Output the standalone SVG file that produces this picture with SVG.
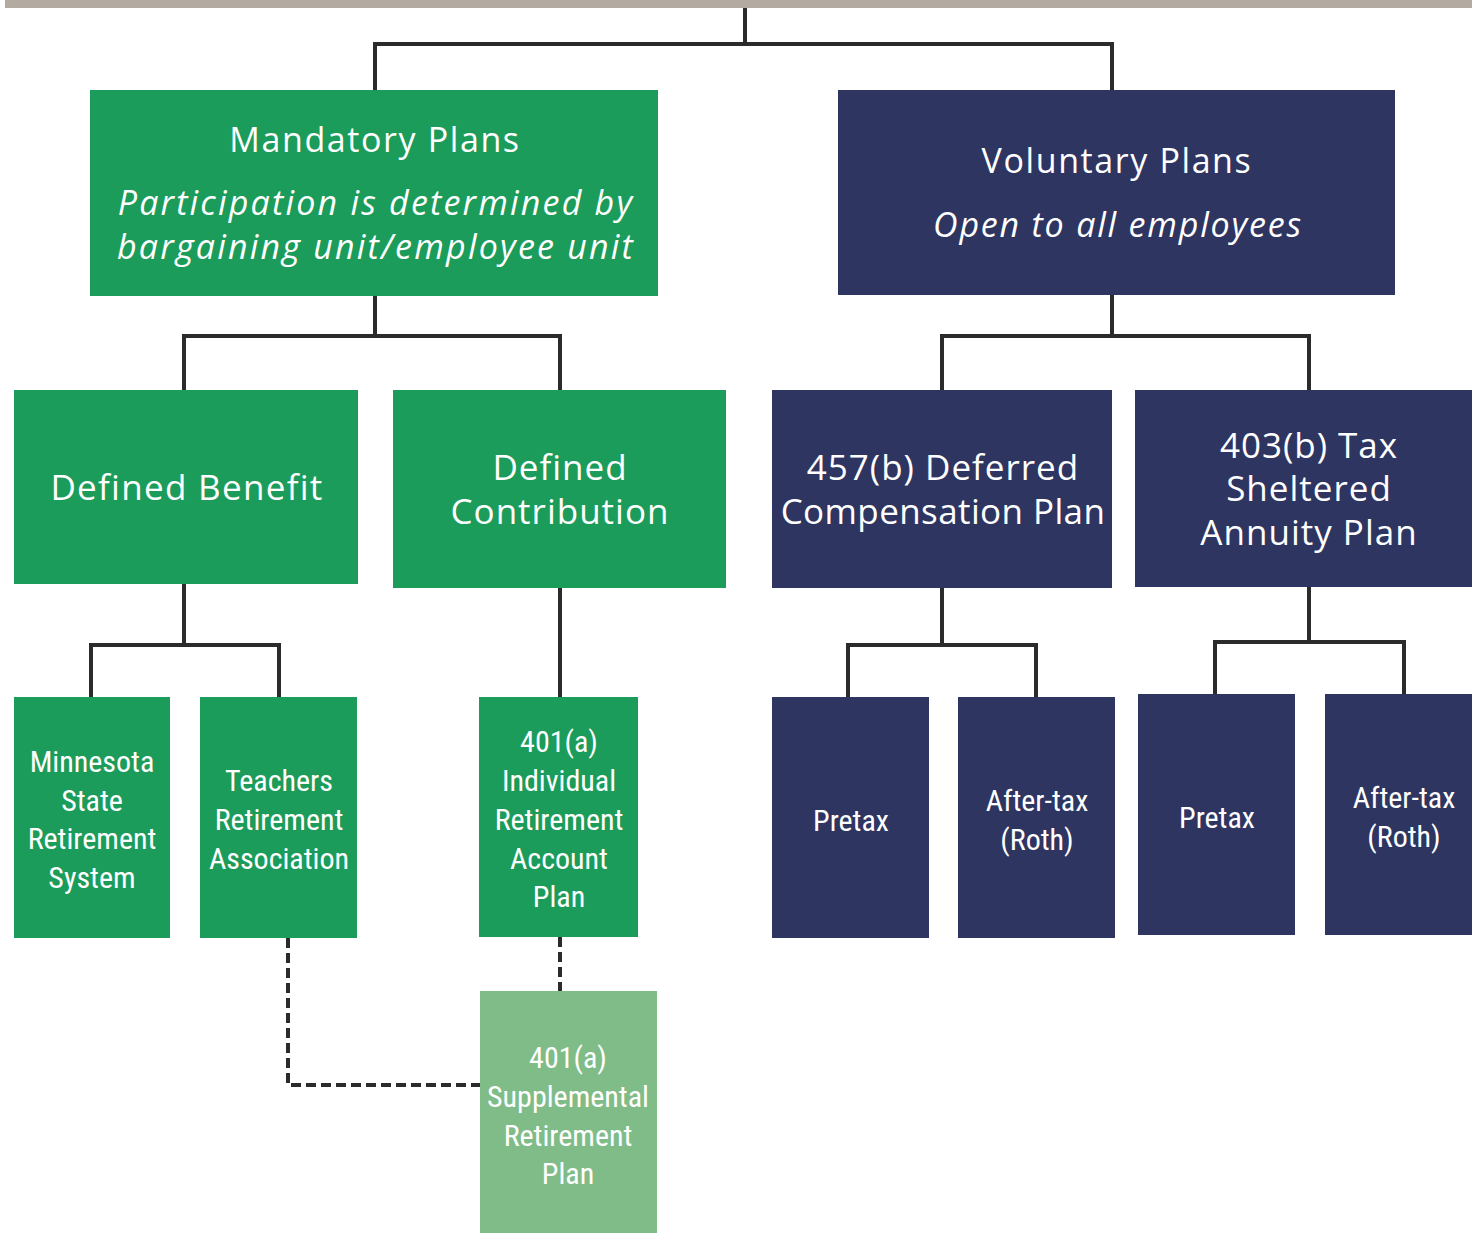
<svg xmlns="http://www.w3.org/2000/svg" width="1472" height="1233" viewBox="0 0 1472 1233">
<style>
.g{fill:#1b9c5a}
.n{fill:#2e3561}
.l{fill:#7fbc88}
.c{fill:none;stroke:#2b2b2b;stroke-width:4}
.d{fill:none;stroke:#2b2b2b;stroke-width:4;stroke-dasharray:10 5}
.h{font-family:"Open Sans","Noto Sans",sans-serif;fill:#fff;text-anchor:middle;font-weight:500}
.s{font-family:"Liberation Sans Narrow","Roboto Condensed","Liberation Sans",sans-serif;fill:#fff;text-anchor:middle;font-size:30px}
</style>
<rect x="5" y="0" width="1467" height="8" fill="#b3aaa1"/>
<g id="connectors">
<path class="c" d="M745 8V44M375 90V44H1112V90"/>
<path class="c" d="M375 296V336M184 390V336H560V390"/>
<path class="c" d="M1112 295V336M942 390V336H1309V390"/>
<path class="c" d="M184 584V645M91 697V645H279V697"/>
<path class="c" d="M560 588V697"/>
<path class="c" d="M942 588V645M848 697V645H1036V697"/>
<path class="c" d="M1309 587V642M1215 694V642H1404V694"/>
<path class="d" d="M288 938V1085H480"/>
<path class="d" d="M560 937V991"/>
</g>
<g id="mandatory"><rect class="g" x="90" y="90" width="568" height="206"/>
<text class="h" x="375" y="152" font-size="34" style="letter-spacing:1.6px">Mandatory Plans</text>
<text class="h" x="376" y="215" font-size="34" font-style="italic" style="letter-spacing:2.2px">Participation is determined by</text>
<text class="h" x="376" y="259" font-size="34" font-style="italic" style="letter-spacing:2.2px">bargaining unit/employee unit</text></g>
<g id="voluntary"><rect class="n" x="838" y="90" width="557" height="205"/>
<text class="h" x="1117" y="173" font-size="34" style="letter-spacing:1.6px">Voluntary Plans</text>
<text class="h" x="1118" y="237" font-size="34" font-style="italic" style="letter-spacing:1.8px">Open to all employees</text></g>
<g id="defined-benefit"><rect class="g" x="14" y="390" width="344" height="194"/>
<text class="h" x="187" y="500" font-size="35" style="letter-spacing:1.3px">Defined Benefit</text></g>
<g id="defined-contribution"><rect class="g" x="393" y="390" width="333" height="198"/>
<text class="h" x="560" y="480" font-size="35" style="letter-spacing:1px">Defined</text>
<text class="h" x="560" y="524" font-size="35" style="letter-spacing:1px">Contribution</text></g>
<g id="p457"><rect class="n" x="772" y="390" width="340" height="198"/>
<text class="h" x="943" y="480" font-size="35" style="letter-spacing:1px">457(b) Deferred</text>
<text class="h" x="943" y="524" font-size="35" style="letter-spacing:0.4px">Compensation Plan</text></g>
<g id="p403"><rect class="n" x="1135" y="390" width="337" height="197"/>
<text class="h" x="1309" y="458" font-size="35" style="letter-spacing:1px">403(b) Tax</text>
<text class="h" x="1309" y="501" font-size="35" style="letter-spacing:1px">Sheltered</text>
<text class="h" x="1309" y="545" font-size="35" style="letter-spacing:1px">Annuity Plan</text></g>
<g id="msrs"><rect class="g" x="14" y="697" width="156" height="241"/>
<text class="s" x="92" y="772">Minnesota</text>
<text class="s" x="92" y="811">State</text>
<text class="s" x="92" y="849">Retirement</text>
<text class="s" x="92" y="888">System</text></g>
<g id="tra"><rect class="g" x="200" y="697" width="157" height="241"/>
<text class="s" x="279" y="791">Teachers</text>
<text class="s" x="279" y="830">Retirement</text>
<text class="s" x="279" y="869">Association</text></g>
<g id="ira"><rect class="g" x="479" y="697" width="159" height="240"/>
<text class="s" x="559" y="752">401(a)</text>
<text class="s" x="559" y="791">Individual</text>
<text class="s" x="559" y="830">Retirement</text>
<text class="s" x="559" y="869">Account</text>
<text class="s" x="559" y="907">Plan</text></g>
<g id="pretax1"><rect class="n" x="772" y="697" width="157" height="241"/>
<text class="s" x="851" y="831">Pretax</text></g>
<g id="aftertax1"><rect class="n" x="958" y="697" width="157" height="241"/>
<text class="s" x="1037" y="811">After-tax</text>
<text class="s" x="1037" y="850">(Roth)</text></g>
<g id="pretax2"><rect class="n" x="1138" y="694" width="157" height="241"/>
<text class="s" x="1217" y="828">Pretax</text></g>
<g id="aftertax2"><rect class="n" x="1325" y="694" width="147" height="241"/>
<text class="s" x="1404" y="808">After-tax</text>
<text class="s" x="1404" y="847">(Roth)</text></g>
<g id="supplemental"><rect class="l" x="480" y="991" width="177" height="242"/>
<text class="s" x="568" y="1068">401(a)</text>
<text class="s" x="568" y="1107">Supplemental</text>
<text class="s" x="568" y="1146">Retirement</text>
<text class="s" x="568" y="1184">Plan</text></g>
</svg>
